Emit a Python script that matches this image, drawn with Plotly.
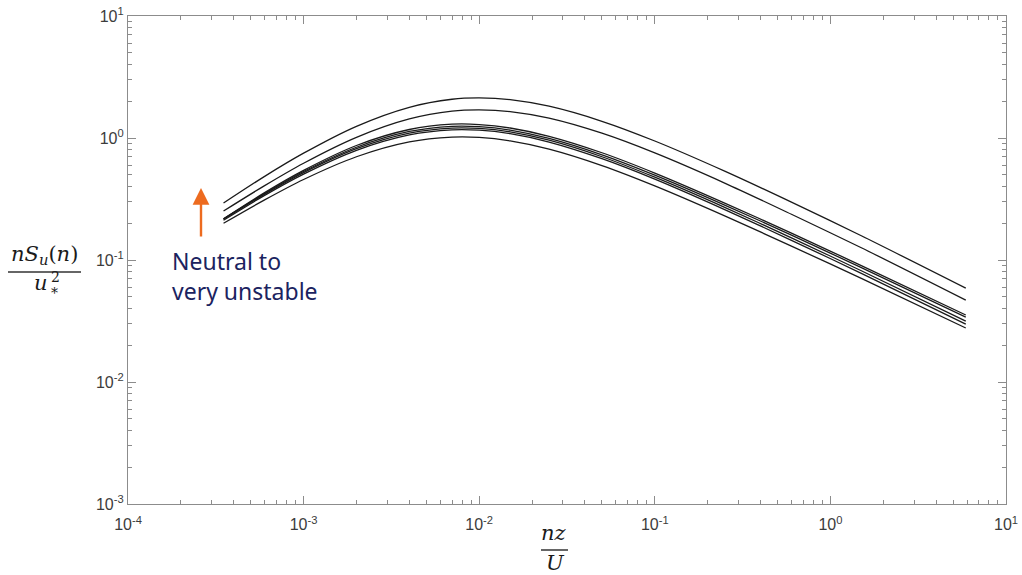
import plotly.graph_objects as go

# ---- data (nz/U, nS_u(n)/u*^2) ----
freq = [3.5e-4, 6e-4, 1e-3, 2e-3, 4e-3, 7e-3, 1e-2, 1.5e-2, 2.5e-2, 5e-2, 0.1, 0.25, 0.6, 1.5, 5.9]

curve_a = [0.293, 0.485, 0.751, 1.247, 1.785, 2.077, 2.13, 2.064, 1.821, 1.371, 0.945, 0.535, 0.298, 0.158, 0.0588]
curve_b = [0.252, 0.407, 0.621, 1.012, 1.432, 1.659, 1.70, 1.647, 1.454, 1.094, 0.754, 0.427, 0.237, 0.126, 0.0469]
curve_c = [0.218, 0.357, 0.543, 0.868, 1.174, 1.297, 1.289, 1.208, 1.032, 0.757, 0.516, 0.293, 0.166, 0.090, 0.0354]
curve_d = [0.217, 0.351, 0.531, 0.840, 1.131, 1.247, 1.239, 1.161, 0.992, 0.728, 0.496, 0.282, 0.160, 0.0865, 0.0340]
curve_e = [0.217, 0.347, 0.521, 0.818, 1.097, 1.207, 1.199, 1.123, 0.959, 0.702, 0.477, 0.270, 0.152, 0.0816, 0.0316]
curve_f = [0.212, 0.339, 0.506, 0.793, 1.061, 1.167, 1.160, 1.086, 0.927, 0.677, 0.460, 0.259, 0.145, 0.0778, 0.0298]
curve_g = [0.200, 0.311, 0.457, 0.702, 0.929, 1.017, 1.011, 0.947, 0.810, 0.594, 0.405, 0.230, 0.130, 0.0706, 0.0277]

curves = [curve_a, curve_b, curve_c, curve_d, curve_e, curve_f, curve_g]

x_tick_vals = [1e-4, 1e-3, 1e-2, 1e-1, 1e0, 1e1]
x_tick_text = ["10<sup>-4</sup>", "10<sup>-3</sup>", "10<sup>-2</sup>", "10<sup>-1</sup>", "10<sup>0</sup>", "10<sup>1</sup>"]
y_tick_vals = [1e-3, 1e-2, 1e-1, 1e0, 1e1]
y_tick_text = ["10<sup>-3</sup>", "10<sup>-2</sup>", "10<sup>-1</sup>", "10<sup>0</sup>", "10<sup>1</sup>"]
minor_mantissas = [2, 3, 4, 5, 6, 7, 8, 9]
x_decades = [-4, -3, -2, -1, 0]
y_decades = [-3, -2, -1, 0]

x_minor = [m * 10.0 ** e for e in x_decades for m in minor_mantissas]
y_minor = [m * 10.0 ** e for e in y_decades for m in minor_mantissas]

W, H = 1022, 575
L, R, T, B = 128, 16, 16, 71
PW, PH = W - L - R, H - T - B


def px_x(px):
    return (px - L) / PW


def px_y(py):
    return (H - B - py) / PH


fig = go.Figure()
for ys in curves:
    fig.add_trace(go.Scatter(
        x=freq, y=ys, mode="lines",
        line=dict(color="#1a1a1a", width=1.3, shape="spline", smoothing=0.8),
        showlegend=False, hoverinfo="skip"))

axis_col = "#8c8c8c"
tick_font = dict(family="Liberation Sans, Arial, sans-serif", size=16, color="#3c3c3c")

fig.update_xaxes(
    type="log", range=[-4, 1], tickmode="array", tickvals=x_tick_vals, ticktext=x_tick_text,
    ticks="inside", ticklen=8, tickwidth=1, tickcolor=axis_col,
    showline=True, linecolor=axis_col, linewidth=1.2, mirror="ticks",
    showgrid=False, zeroline=False, tickfont=tick_font, automargin=False,
    ticklabelstandoff=6,
    minor=dict(ticks="inside", ticklen=4, tickcolor=axis_col, tickmode="array", tickvals=x_minor, showgrid=False),
)
fig.update_yaxes(
    type="log", range=[-3, 1], tickmode="array", tickvals=y_tick_vals, ticktext=y_tick_text,
    ticks="inside", ticklen=8, tickwidth=1, tickcolor=axis_col,
    showline=True, linecolor=axis_col, linewidth=1.2, mirror="ticks",
    showgrid=False, zeroline=False, tickfont=tick_font, automargin=False,
    minor=dict(ticks="inside", ticklen=4, tickcolor=axis_col, tickmode="array", tickvals=y_minor, showgrid=False),
)

math_font = dict(family="DejaVu Serif, serif", size=21, color="#1a1a1a")
small_math = dict(family="DejaVu Serif, serif", size=14, color="#1a1a1a")

annotations = [
    # arrow
    dict(x=px_x(201), y=px_y(188), xref="paper", yref="paper", ax=0, ay=49,
         showarrow=True, arrowhead=2, arrowsize=1.4, arrowwidth=2.4, arrowcolor="#ED6B1F", text=""),
    # text
    dict(x=px_x(171), y=px_y(244), xref="paper", yref="paper", xanchor="left", yanchor="top",
         text="Neutral to<br>very unstable", showarrow=False, align="left",
         font=dict(family="Noto Sans, sans-serif", size=23, color="#1b2360")),
    # y-axis label fraction
    dict(x=px_x(44), y=px_y(255), xref="paper", yref="paper", xanchor="center", yanchor="middle",
         text="<i>nS</i><sub><i>u</i></sub>(<i>n</i>)", showarrow=False, font=math_font),
    dict(x=px_x(41), y=px_y(283), xref="paper", yref="paper", xanchor="center", yanchor="middle",
         text="<i>u</i>", showarrow=False, font=math_font),
    dict(x=px_x(50), y=px_y(277), xref="paper", yref="paper", xanchor="left", yanchor="middle",
         text="2", showarrow=False, font=small_math),
    dict(x=px_x(50), y=px_y(293), xref="paper", yref="paper", xanchor="left", yanchor="middle",
         text="*", showarrow=False, font=small_math),
    # x-axis label fraction
    dict(x=px_x(554), y=px_y(533), xref="paper", yref="paper", xanchor="center", yanchor="middle",
         text="<i>nz</i>", showarrow=False, font=math_font),
    dict(x=px_x(555), y=px_y(563), xref="paper", yref="paper", xanchor="center", yanchor="middle",
         text="<i>U</i>", showarrow=False, font=math_font),
]
for a in annotations:
    a.setdefault("borderpad", 0)
    fig.add_annotation(**a)

shapes = [
    dict(type="line", xref="paper", yref="paper", x0=px_x(8), x1=px_x(81), y0=px_y(272), y1=px_y(272),
         line=dict(color="#333333", width=1.5)),
    dict(type="line", xref="paper", yref="paper", x0=px_x(541), x1=px_x(568), y0=px_y(550), y1=px_y(550),
         line=dict(color="#333333", width=1.5)),
]
for s in shapes:
    fig.add_shape(**s)

fig.update_layout(
    width=W, height=H, margin=dict(l=L, r=R, t=T, b=B, pad=0, autoexpand=False),
    paper_bgcolor="white", plot_bgcolor="white", showlegend=False,
)

fig.write_html("out.html")
